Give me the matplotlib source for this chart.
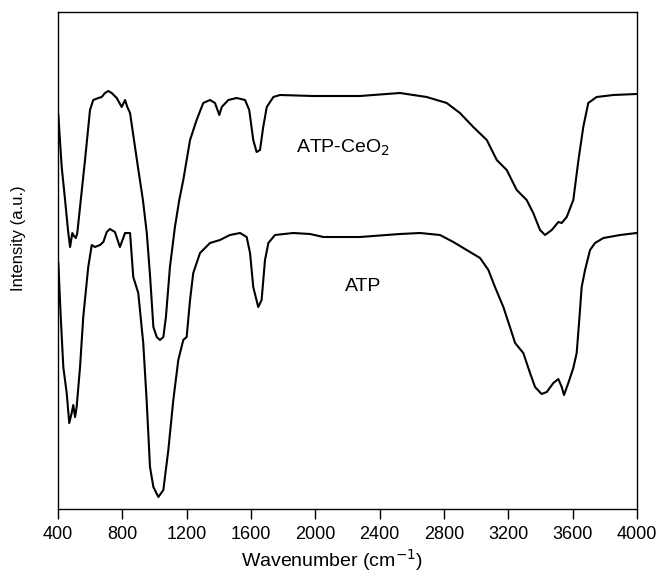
import matplotlib
matplotlib.use("Agg")
import matplotlib.pyplot as plt

plt.rcParams['font.family'] = ['Liberation Sans', 'DejaVu Sans']

# ATP-CeO2 spectrum (wavenumber cm-1, intensity a.u.)
w_ceo2 = [402, 423, 444, 462, 475, 489, 499, 511, 520, 537, 568, 599, 619, 651, 672, 692, 713, 734,
          765, 796, 817, 831, 848, 866, 897, 928, 952, 972, 993, 1014, 1034, 1055, 1071, 1096, 1127,
          1154, 1179, 1221, 1262, 1303, 1345, 1376, 1403, 1418, 1459, 1511, 1563, 1589, 1614, 1635,
          1656, 1676, 1698, 1739, 1780, 1985, 2278, 2526, 2692, 2817, 2899, 2982, 3066, 3128, 3190,
          3252, 3314, 3355, 3397, 3428, 3470, 3511, 3532, 3563, 3604, 3636, 3666, 3697, 3749, 3853, 3998]
i_ceo2 = [394, 342, 309, 279, 262, 276, 273, 271, 276, 302, 349, 399, 409, 411, 412, 416, 418, 416,
          411, 402, 409, 402, 396, 376, 342, 309, 276, 234, 182, 172, 169, 172, 192, 242, 282,
          309, 329, 369, 389, 406, 409, 406, 394, 402, 409, 411, 409, 399, 369, 357,
          359, 382, 402, 412, 414, 413, 413, 416, 412, 406, 396, 382, 369, 349, 339,
          319, 309, 296, 279, 274, 279, 287, 286, 292, 309, 349, 382, 406, 412, 414, 415]

# ATP spectrum
w_atp = [402, 417, 433, 454, 470, 485, 495, 506, 516, 537, 557, 588, 610, 630, 661, 682, 703, 723,
         754, 785, 817, 848, 868, 899, 930, 951, 972, 993, 1024, 1055, 1086, 1117, 1148, 1179, 1200,
         1221, 1241, 1283, 1345, 1407, 1469, 1532, 1573, 1594, 1614, 1645, 1666, 1687, 1708, 1749,
         1863, 1967, 2050, 2278, 2526, 2651, 2775, 2858, 2941, 3024, 3076, 3117, 3169, 3210, 3242,
         3293, 3335, 3366, 3407, 3439, 3480, 3511, 3532, 3546, 3573, 3604, 3625, 3641, 3656, 3677,
         3708, 3739, 3791, 3895, 3998]
i_atp = [246, 192, 142, 116, 86, 96, 104, 92, 102, 142, 192, 242, 264, 262, 264, 267, 277, 280,
         277, 262, 276, 276, 232, 216, 166, 109, 42, 22, 12, 19, 59, 109, 149, 169, 172,
         209, 236, 256, 266, 269, 274, 276, 272, 256, 222, 202, 209, 249, 266, 274,
         276, 275, 272, 272, 275, 276, 274, 267, 259, 251, 239, 222, 202, 182, 166,
         156, 136, 122, 115, 117, 126, 130, 122, 114, 126, 141, 156, 189, 222, 239,
         259, 266, 271, 274, 276]

xticks = [400, 800, 1200, 1600, 2000, 2400, 2800, 3200, 3600, 4000]

fig = plt.figure(figsize=(6.58, 5.75), dpi=100)
ax = fig.add_axes([58/658, 1-509/575, 579/658, 497/575])

ax.plot(w_ceo2, i_ceo2, color='black', lw=1.5)
ax.plot(w_atp, i_atp, color='black', lw=1.5)

ax.set_xlim(400, 4000)
ax.set_ylim(0, 497)
ax.set_xticks(xticks)
ax.set_yticks([])
ax.tick_params(axis='x', direction='out', length=7, width=1, labelsize=13, pad=5)
for s in ax.spines.values():
    s.set_linewidth(1)

ax.text(2172, 356, 'ATP-CeO$_2$', fontsize=14, ha='center', va='baseline')
ax.text(2296, 218, 'ATP', fontsize=14, ha='center', va='baseline')

ax.set_xlabel('Wavenumber (cm$^{-1}$)', fontsize=14, va='top')
ax.xaxis.set_label_coords((332-58)/579, (509-547)/497)
fig.text(19/658, 1-238/575, 'Intensity (a.u.)', fontsize=12, rotation=90,
         ha='center', va='center')

fig.savefig('out.png', dpi=100)
